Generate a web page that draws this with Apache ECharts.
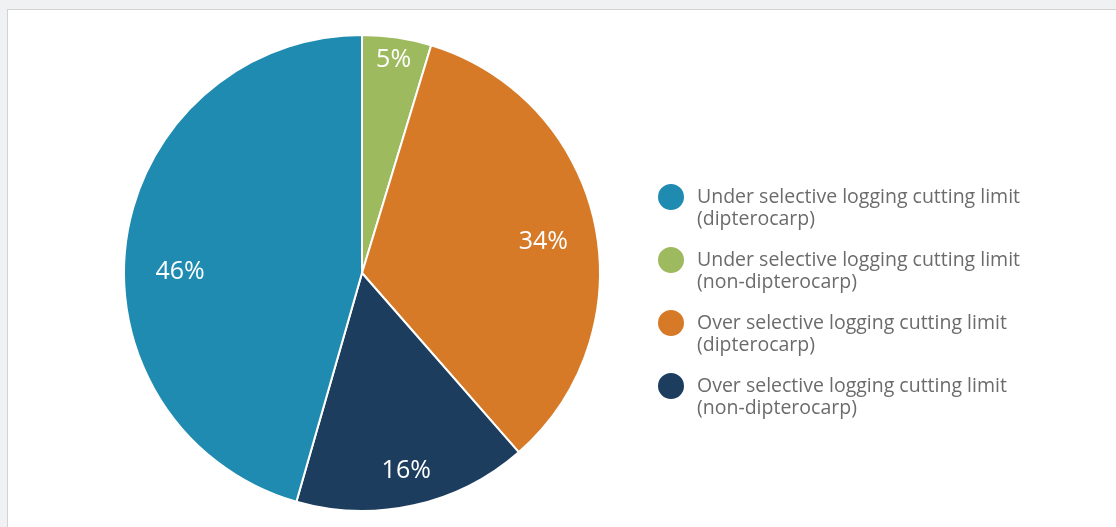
<!DOCTYPE html>
<html>
<head>
<meta charset="utf-8">
<script src="https://cdn.jsdelivr.net/npm/echarts@6/dist/echarts.min.js"></script>
<style>
  html, body { margin: 0; padding: 0; width: 1116px; height: 527px; background: #f0f1f3; overflow: hidden; }
  #panel { position: absolute; left: 7px; top: 9px; width: 1109px; height: 518px; background: #ffffff; border-left: 1px solid #d3d3d3; border-top: 1px solid #d3d3d3; }
  #chart { position: absolute; left: 0; top: 0; width: 1116px; height: 527px; }
</style>
</head>
<body>
<div id="panel"></div>
<div id="chart"></div>
<script>
// Legend order
const categories = [
  'Under selective logging cutting limit (dipterocarp)',
  'Under selective logging cutting limit (non-dipterocarp)',
  'Over selective logging cutting limit (dipterocarp)',
  'Over selective logging cutting limit (non-dipterocarp)'
];
// Share of each category (%)
const values = [45.6, 4.7, 33.9, 15.9];
const colors = ['#1f8bb0', '#9eba5e', '#d77a28', '#1d3d5f'];

// Clockwise drawing order starting from the top of the pie
const pieOrder = [1, 2, 3, 0];
// Label placement (style): radial distance (px) and angular shift (deg) from slice middle
const labelRadius = [179, 212, 181, 200];
const labelAngleShift = [-7.8, 0, 2.4, 0];

const R = 238;
const total = values.reduce((a, b) => a + b, 0);
let acc = 0;
const pieData = pieOrder.map(i => {
  const midDeg = (acc + values[i] / 2) / total * 360;
  acc += values[i];
  const tgt = (midDeg + labelAngleShift[i]) * Math.PI / 180;
  const mid = midDeg * Math.PI / 180;
  const base = R / 2;
  const ox = labelRadius[i] * Math.sin(tgt) - base * Math.sin(mid);
  const oy = -labelRadius[i] * Math.cos(tgt) + base * Math.cos(mid);
  return {
    name: categories[i],
    value: values[i],
    itemStyle: { color: colors[i] },
    label: { offset: [ox, oy] }
  };
});

const FONT = 'Open Sans, DejaVu Sans, sans-serif';
const chart = echarts.init(document.getElementById('chart'), null, { renderer: 'canvas' });
chart.setOption({
  animation: false,
  backgroundColor: 'transparent',
  legend: {
    data: categories,
    orient: 'vertical',
    left: 656,
    top: 164,
    padding: 0,
    icon: 'circle',
    itemWidth: 28,
    itemHeight: 28,
    itemGap: -3,
    // leading blank line keeps the marker level with the first text line
    formatter: name => ' \n' + name.replace(' (', '\n('),
    textStyle: {
      fontFamily: FONT,
      fontSize: 19.5,
      lineHeight: 22,
      color: '#6b6b6b',
      padding: [0, 0, 0, 7]
    }
  },
  series: [{
    type: 'pie',
    center: [362, 273],
    radius: R,
    startAngle: 90,
    clockwise: true,
    avoidLabelOverlap: false,
    itemStyle: { borderColor: '#ffffff', borderWidth: 2 },
    label: {
      show: true,
      position: 'inside',
      formatter: p => Math.round(p.value) + '%',
      color: '#ffffff',
      fontFamily: FONT,
      fontSize: 25
    },
    labelLine: { show: false },
    emphasis: { disabled: true },
    data: pieData
  }]
});
</script>
</body>
</html>
